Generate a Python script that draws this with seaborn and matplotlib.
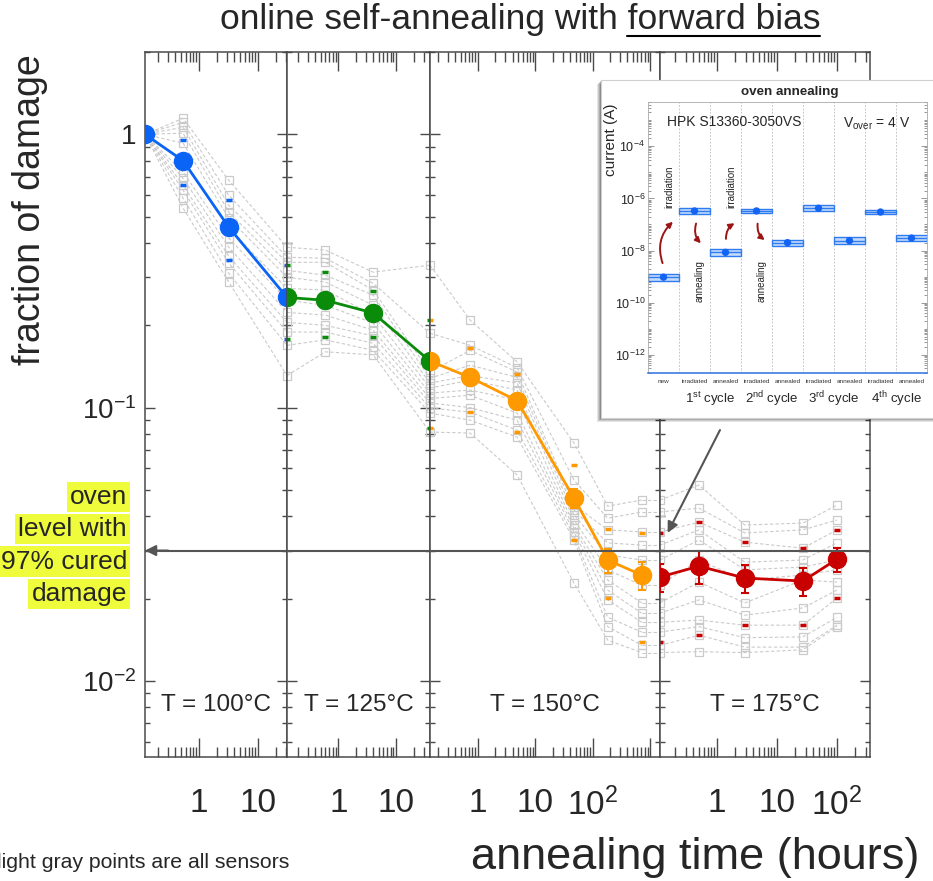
import numpy as np
import pandas as pd
import matplotlib
matplotlib.use("Agg")
import matplotlib.pyplot as plt
import seaborn as sns
from matplotlib.patches import Rectangle, FancyArrowPatch
from matplotlib.lines import Line2D
from matplotlib.ticker import FixedLocator, LogLocator, NullFormatter, FixedFormatter

# ---------------- data ----------------
temps = ["T = 100°C", "T = 125°C", "T = 150°C", "T = 175°C"]
colors = ["#0a64f5", "#0a8c0a", "#ff9900", "#c80000"]

# annealing times (hours) per temperature step (first/last at panel edges)
t100 = [0.122, 0.54, 3.2, 31.0]
t125 = [0.13, 0.6, 4.0, 38.5]
t150 = [0.146, 0.73, 4.8, 47.0, 182.0, 710.0]
t175 = [0.112, 0.5, 2.9, 27.0, 100.0]
xlims = [(0.122, 31.0), (0.13, 38.5), (0.146, 1480.0), (0.112, 355.0)]

# average fraction of damage
mean100 = [1.0, 0.80, 0.457, 0.253]
mean125 = [0.253, 0.247, 0.222, 0.148]
mean150 = [0.148, 0.129, 0.106, 0.0467, 0.0277, 0.0244]
mean175 = [0.024, 0.0263, 0.0238, 0.0232, 0.0279]
# relative uncertainty of the averages
rel100 = [0.02, 0.05, 0.05, 0.05]
rel125 = [0.05, 0.05, 0.05, 0.05]
rel150 = [0.05, 0.05, 0.05, 0.08, 0.10, 0.12]
rel175 = [0.12, 0.14, 0.12, 0.12, 0.10]

# individual sensors (12), values at each measurement
g100_x0 = [1.0] * 12
g100_x1 = [1.144, 1.106, 1.061, 1.009, 0.927, 0.803, 0.726, 0.690, 0.651, 0.624, 0.583, 0.536]
g100_x2 = [0.679, 0.598, 0.550, 0.519, 0.493, 0.453, 0.417, 0.386, 0.358, 0.338, 0.310, 0.288]
g100_x3 = [0.386, 0.355, 0.340, 0.318, 0.300, 0.273, 0.247, 0.223, 0.205, 0.189, 0.169, 0.131]
g125_x1 = [0.377, 0.352, 0.340, 0.305, 0.288, 0.269, 0.237, 0.218, 0.200, 0.189, 0.177, 0.160]
g125_x2 = [0.313, 0.285, 0.269, 0.258, 0.237, 0.218, 0.204, 0.192, 0.183, 0.172, 0.162, 0.156]
g125_x3 = [0.332, 0.187, 0.135, 0.128, 0.123, 0.118, 0.113, 0.108, 0.104, 0.0996, 0.0955, 0.0814]
g150_x1 = [0.209, 0.169, 0.162, 0.143, 0.131, 0.126, 0.116, 0.111, 0.100, 0.0963, 0.0900, 0.0807]
g150_x2 = [0.147, 0.140, 0.135, 0.129, 0.123, 0.116, 0.1065, 0.0955, 0.0900, 0.0827, 0.0780, 0.0567]
g150_x3 = [0.0742, 0.0543, 0.0440, 0.0422, 0.0405, 0.0388, 0.0372, 0.0363, 0.0351, 0.0339, 0.0328, 0.0228]
g150_x4 = [0.0436, 0.0394, 0.0357, 0.0320, 0.0289, 0.0255, 0.0234, 0.0215, 0.0198, 0.0171, 0.0158, 0.0141]
g150_x5 = [0.0459, 0.0415, 0.0351, 0.0314, 0.0277, 0.0224, 0.0193, 0.0177, 0.0164, 0.0151, 0.0135, 0.0127]
g175_x1 = [0.0521, 0.0429, 0.0381, 0.0357, 0.0328, 0.0277, 0.0230, 0.0198, 0.0167, 0.0158, 0.0147, 0.0128]
g175_x2 = [0.0372, 0.0348, 0.0322, 0.0272, 0.0255, 0.0234, 0.0193, 0.0174, 0.0160, 0.0144, 0.0133, 0.0127]
g175_x3 = [0.0378, 0.0357, 0.0306, 0.0277, 0.0261, 0.0244, 0.0234, 0.0185, 0.0160, 0.0145, 0.0133, 0.0130]
g175_x4 = [0.0440, 0.0388, 0.0357, 0.0320, 0.0277, 0.0255, 0.0230, 0.0215, 0.0201, 0.0171, 0.0160, 0.0158]

# small coloured sub-group points
sub100_hi = [0.951, 0.573, 0.332]
sub100_lo = [0.651, 0.346, 0.179]
sub125_hi = [0.313, 0.267, 0.209]
sub125_lo = [0.181, 0.181, 0.084]
sub150_hi = [0.165, 0.133, 0.0616, 0.0359, 0.0349]
sub150_lo = [0.0963, 0.0814, 0.0328, 0.0201, 0.0139]
sub175_hi = [0.0381, 0.0322, 0.0306, 0.0357]
sub175_lo = [0.0147, 0.0160, 0.0160, 0.0201]

oven_level = 0.03
xtick_vals = [1, 10, 100, 1000]
xtick_labels = ["1", "10", "$10^2$", ""]
ytick_vals = [0.01, 0.1, 1.0]
ytick_labels = ["$10^{-2}$", "$10^{-1}$", "1"]

# inset: oven annealing
inset_cats = ["new", "irradiated", "annealed", "irradiated", "annealed",
              "irradiated", "annealed", "irradiated", "annealed"]
inset_current = [9.5e-10, 3.3e-7, 8.5e-9, 3.3e-7, 2.0e-8, 4.2e-7, 2.4e-8, 3.0e-7, 3.0e-8]
inset_band = [0.135, 0.10, 0.14, 0.08, 0.11, 0.11, 0.13, 0.06, 0.10]  # half width, decades
cycle_labels = ["1$^{\\rm st}$ cycle", "2$^{\\rm nd}$ cycle", "3$^{\\rm rd}$ cycle", "4$^{\\rm th}$ cycle"]

# ---------------- style ----------------
sns.set_theme(style="ticks")
plt.rcParams["font.family"] = ["Liberation Sans", "DejaVu Sans"]
plt.rcParams["mathtext.fontset"] = "custom"
plt.rcParams["mathtext.rm"] = "Liberation Sans"
plt.rcParams["mathtext.it"] = "Liberation Sans:italic"
plt.rcParams["mathtext.bf"] = "Liberation Sans:bold"
plt.rcParams["axes.linewidth"] = 1.1

W, H = 933, 881
fig = plt.figure(figsize=(W / 100, H / 100), dpi=100)
fig.patch.set_facecolor("white")


def fx(px):
    return px / W


def fy(py):
    return 1 - py / H


edges = [145, 287, 430, 660, 870]
top_px, bot_px = 52, 757
ylim = (0.00527, 2.0)

times = [t100, t125, t150, t175]
means = [mean100, mean125, mean150, mean175]
rels = [rel100, rel125, rel150, rel175]
grays = [
    [g100_x0, g100_x1, g100_x2, g100_x3],
    [g100_x3, g125_x1, g125_x2, g125_x3],
    [g125_x3, g150_x1, g150_x2, g150_x3, g150_x4, g150_x5],
    [g150_x5, g175_x1, g175_x2, g175_x3, g175_x4],
]
subs_hi = [[1.0] + sub100_hi, [sub100_hi[-1]] + sub125_hi, [sub125_hi[-1]] + sub150_hi, [sub150_hi[-1]] + sub175_hi]
subs_lo = [[1.0] + sub100_lo, [sub100_lo[-1]] + sub125_lo, [sub125_lo[-1]] + sub150_lo, [sub150_lo[-1]] + sub175_lo]

gray_c = "#cacaca"
spine_c = "#4a4a4a"
axes = []
for i in range(4):
    ax = fig.add_axes([fx(edges[i]), fy(bot_px), (edges[i + 1] - edges[i]) / W, (bot_px - top_px) / H])
    axes.append(ax)
    ax.set_xscale("log")
    ax.set_yscale("log")
    ax.set_xlim(*xlims[i])
    ax.set_ylim(*ylim)

    t = times[i]
    rows = []
    for k, vals in enumerate(grays[i]):
        for s, v in enumerate(vals):
            rows.append({"t": t[k], "v": v, "sensor": s})
    df = pd.DataFrame(rows)
    sns.lineplot(data=df, x="t", y="v", units="sensor", estimator=None, ax=ax,
                 color=gray_c, lw=0.8, linestyle=(0, (3, 2)), marker="s", markersize=6,
                 markerfacecolor="none", markeredgecolor=gray_c, markeredgewidth=0.9,
                 legend=False, zorder=1)
    if i == 2:  # continuation of sensor lines to the next step
        for v in grays[i][-1]:
            ax.plot([t[-1], xlims[i][1]], [v, v], color=gray_c, lw=0.8, ls=(0, (3, 2)), zorder=1)

    ax.plot(t, subs_hi[i], ls="none", marker="_", ms=5, mew=2.5, color=colors[i], zorder=2)
    ax.plot(t, subs_lo[i], ls="none", marker="_", ms=5, mew=2.5, color=colors[i], zorder=2)

    m = np.array(means[i])
    err = m * np.array(rels[i])
    ax.errorbar(t, m, yerr=err, color=colors[i], marker="o", ms=13, lw=2.0,
                elinewidth=1.5, capsize=3, capthick=1.5, zorder=4)

    ax.axhline(oven_level, color="#555555", lw=1.5, zorder=5)
    ax.text(0.5, 0.074, temps[i], transform=ax.transAxes, ha="center", va="center", fontsize=17.5)

    ax.xaxis.set_major_locator(FixedLocator(xtick_vals))
    ax.xaxis.set_major_formatter(FixedFormatter(xtick_labels))
    ax.xaxis.set_minor_locator(LogLocator(base=10, subs=np.arange(2, 10), numticks=50))
    ax.xaxis.set_minor_formatter(NullFormatter())
    ax.yaxis.set_major_locator(FixedLocator(ytick_vals))
    ax.yaxis.set_major_formatter(FixedFormatter(ytick_labels))
    ax.yaxis.set_minor_locator(LogLocator(base=10, subs=np.arange(2, 10), numticks=50))
    ax.yaxis.set_minor_formatter(NullFormatter())
    ax.tick_params(which="both", direction="in", top=True, right=True, left=True, bottom=True,
                   color=spine_c, width=1.0)
    ax.tick_params(axis="x", which="major", length=14, labelsize=24, pad=22)
    ax.tick_params(axis="x", which="minor", length=7)
    ax.tick_params(axis="y", which="major", length=7, labelsize=20, pad=6)
    ax.tick_params(axis="y", which="minor", length=3.6)
    if i > 0:
        ax.tick_params(axis="y", labelleft=False)
    for sp in ax.spines.values():
        sp.set_color(spine_c)
    ax.set_xlabel("")
    ax.set_ylabel("")

# arrow on the oven level pointing to the labels
axes[0].annotate("", xy=(xlims[0][0], oven_level), xytext=(0.3, oven_level),
                 arrowprops=dict(arrowstyle="-|>", color="#555555", lw=1.5, mutation_scale=16,
                                 shrinkA=0, shrinkB=0), annotation_clip=False, zorder=6)
# arrow from inset to oven level
axes[3].annotate("", xy=(0.15, 0.0348), xytext=(1.12, 0.0828),
                 arrowprops=dict(arrowstyle="-|>", color="#555555", lw=1.5, mutation_scale=16,
                                 shrinkA=0, shrinkB=0), annotation_clip=False, zorder=6)

# highlighted oven text
oven_lines = ["oven", "level with", "97% cured", "damage"]
for k, line in enumerate(oven_lines):
    fig.text(fx(127), fy(497 + 32.3 * k), line, ha="right", va="center", fontsize=19,
             bbox=dict(boxstyle="square,pad=0.12", fc="#eefc3c", ec="none"))

# axis labels, title, notes
fig.text(fx(30), fy(210), "fraction of damage", rotation=90, ha="center", va="center", fontsize=27)
fig.text(fx(695), fy(858), "annealing time (hours)", ha="center", va="center", fontsize=32.5)
fig.text(fx(-3), fy(862), "light gray points are all sensors", ha="left", va="center", fontsize=15.3)
fig.text(fx(-3), fy(892), "colored points are averages", ha="left", va="center", fontsize=15.3)

renderer = fig.canvas.get_renderer()


def underline_part(txt, part, at_end, fontsize, weight="normal", dy=2, lw=1.5):
    bb = txt.get_window_extent(renderer)
    tmp = fig.text(0, 0, part, fontsize=fontsize, weight=weight)
    w = tmp.get_window_extent(renderer).width
    tmp.remove()
    if at_end:
        x0, x1 = bb.x1 - w, bb.x1
    else:
        x0, x1 = bb.x0, bb.x0 + w
    y = bb.y0 + dy
    fig.add_artist(Line2D([x0 / W, x1 / W], [y / H, y / H], color="black", lw=lw,
                          transform=fig.transFigure))


title = fig.text(fx(520), fy(20), "online self-annealing with forward bias", ha="center",
                 va="center", fontsize=25.5)
underline_part(title, "forward bias", True, 25.5, dy=1)

# ---------------- inset ----------------
bx0, bx1, by0, by1 = 601, 945, 80, 418
for off, a in [(4, 0.10), (3, 0.12), (2, 0.15), (1, 0.2)]:
    fig.add_artist(Rectangle((fx(bx0 - off), fy(by1 + off)), (bx1 - bx0) / W, (by1 - by0) / H,
                             transform=fig.transFigure, fc="#000000", ec="none", alpha=a, zorder=8))
fig.add_artist(Rectangle((fx(bx0), fy(by1)), (bx1 - bx0) / W, (by1 - by0) / H,
                         transform=fig.transFigure, fc="white", ec="#d0d0d0", lw=0.8, zorder=9))

iax = fig.add_axes([fx(648), fy(373), (927 - 648) / W, (373 - 102) / H])
iax.set_zorder(10)
iax.set_facecolor("white")
iax.set_yscale("log")
iax.set_xlim(-0.5, len(inset_cats) - 0.5)
iax.set_ylim(10 ** -12.7, 10 ** -2.3)
xi = np.arange(len(inset_cats))
cur = np.array(inset_current)
band = np.array(inset_band)
lo = cur / 10 ** band
hi = cur * 10 ** band
iax.bar(xi, hi - lo, bottom=lo, width=1.0, color="#c5dbfa", edgecolor="#2f7cf0", lw=1.0, zorder=2)
iax.hlines(cur, xi - 0.5, xi + 0.5, color="#2f7cf0", lw=1.0, zorder=3)
sns.scatterplot(x=xi, y=cur, ax=iax, color="#1264f5", s=28, edgecolor="none", zorder=4, legend=False)
for b in np.arange(0.5, len(inset_cats) - 0.5, 1.0):
    iax.axvline(b, color="#b8b8b8", lw=0.6, ls=(0, (2, 2)), zorder=1)

iax.set_xticks(xi)
iax.set_xticklabels(inset_cats, fontsize=4.6, color="#333333")
iax.tick_params(axis="x", length=0, pad=4)
iax.yaxis.set_major_locator(FixedLocator([1e-12, 1e-10, 1e-8, 1e-6, 1e-4]))
iax.yaxis.set_minor_locator(LogLocator(base=10, subs=np.arange(1, 10), numticks=60))
iax.yaxis.set_minor_formatter(NullFormatter())
iax.tick_params(axis="y", which="both", direction="in", left=True, right=True, color="#888888", width=0.6)
iax.tick_params(axis="y", which="major", length=4, labelsize=9, pad=2)
iax.tick_params(axis="y", which="minor", length=2)
for name, sp in iax.spines.items():
    sp.set_color("#aaaaaa")
    sp.set_linewidth(0.6)
iax.spines["bottom"].set_color("#3d7be0")
iax.spines["bottom"].set_linewidth(1.2)
iax.set_xlabel("")
iax.set_ylabel("")

iax.text(0.068, 0.926, "HPK S13360-3050VS", transform=iax.transAxes, ha="left", va="center", fontsize=10)
iax.text(0.94, 0.92, "V$_{\\rm over}$ = 4 V", transform=iax.transAxes, ha="right", va="center", fontsize=10)
for xc, yc, s in [(0.18, 2.7e-6, "irradiation"), (1.15, 6.6e-10, "annealing"),
                  (2.2, 2.7e-6, "irradiation"), (3.15, 6.6e-10, "annealing")]:
    iax.text(xc, yc, s, rotation=90, ha="center", va="center", fontsize=7)
arrow_c = "#9b1515"
for (p0, p1, rad) in [((0.0, 2.6e-9), (0.37, 1.5e-7), -0.35), ((1.08, 1.37e-7), (1.27, 1.6e-8), 0.35),
                      ((2.02, 2.2e-8), (2.37, 1.26e-7), -0.35), ((3.05, 1.37e-7), (3.34, 2.2e-8), 0.35)]:
    iax.add_patch(FancyArrowPatch(p0, p1, connectionstyle=f"arc3,rad={rad}", arrowstyle="-|>",
                                  mutation_scale=8, color=arrow_c, lw=1.4, zorder=5))

for k, lab in enumerate(cycle_labels):
    iax.text(1.5 + 2 * k, -0.095, lab, transform=iax.get_xaxis_transform(), ha="center",
             va="center", fontsize=9.5)
fig.text(fx(611), fy(140), "current (A)", rotation=90, ha="center", va="center", fontsize=11, zorder=11)
ititle = fig.text(fx(790), fy(92), "oven annealing", ha="center", va="center", fontsize=9.6,
                  weight="bold", zorder=11)
underline_part(ititle, "oven", False, 9.6, weight="bold", dy=0.5, lw=0.9)

fig.savefig("out.png", dpi=100)
